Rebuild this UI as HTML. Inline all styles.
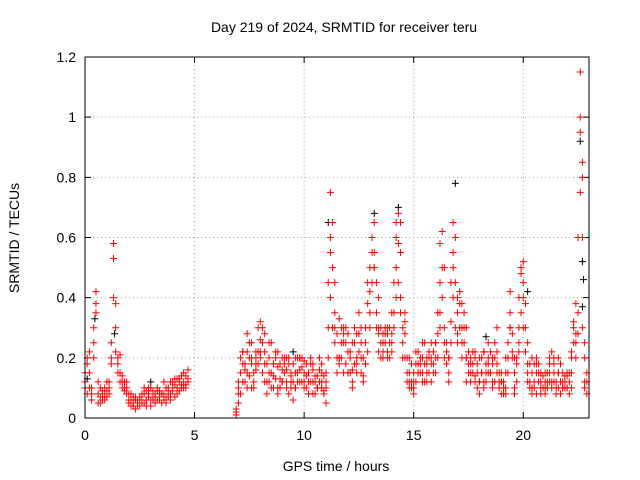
<!DOCTYPE html>
<html><head><meta charset="utf-8"><style>
body{margin:0;background:#fff}
svg{display:block;font-family:"Liberation Sans",sans-serif}
</style></head><body>
<svg id="chart" width="640" height="480">
<rect x="0" y="0" width="640" height="480" fill="#fff"/>
<text x="344" y="32" font-size="14" text-anchor="middle">Day 219 of 2024, SRMTID for receiver teru</text>
<text x="336" y="471" font-size="14" text-anchor="middle">GPS time / hours</text>
<text x="19" y="238" font-size="14" text-anchor="middle" transform="rotate(-90 19 238)">SRMTID / TECUs</text>
<g id="grid"></g>
<g id="ticks"></g>
<g id="marks"></g>
<rect x="85" y="57" width="504" height="361" fill="none" stroke="#000" stroke-width="1"/>
</svg>
<script>
const xTicks=[0,5,10,15,20];
const yTicks=[0,0.2,0.4,0.6,0.8,1,1.2];
const yTickLabels=["0","0.2","0.4","0.6","0.8","1","1.2"];
const redT1=[0,0.1,0.2,0.3,0.4,0.5,0.6,0.7,0.8,0.9,1.0,1.1,1.2,1.3,1.4,1.5,1.6,1.7,1.8,1.9,2.0,2.1,2.2,2.3,2.4,2.5,2.6,2.7,2.8,2.9,3.0,3.1,3.2,3.3,3.4,3.5,3.6,3.7,3.8,3.9,4.0,4.1,4.2,4.3,4.4,4.5,4.6,4.7];
const redA1=[.12,.18,.22,.1,.3,.38,.12,.07,.06,.1,.09,.12,.25,.53,.38,.2,.21,.14,.12,.1,.08,.06,.05,.07,.04,.06,.08,.05,.09,.07,.1,.06,.08,.09,.07,.05,.08,.1,.07,.12,.09,.11,.1,.13,.11,.12,.14,.16];
const redB1=[.15,.08,.1,.06,.2,.42,.08,.05,.09,.06,.07,.1,.18,.58,.3,.15,.12,.1,.09,.12,.06,.04,.07,.03,.06,.04,.05,.08,.06,.1,.04,.07,.05,.06,.09,.08,.06,.05,.09,.08,.12,.07,.13,.09,.14,.1,.1,.12];
const redC1=[.1,.2,.15,.08,.25,.35,.05,.1,.07,.08,.12,.08,.2,.4,.22,.18,.15,.12,.1,.08,.05,.08,.04,.06,.05,.07,.06,.1,.04,.08,.06,.09,.07,.1,.06,.08,.12,.07,.1,.06,.1,.13,.08,.12,.1,.15,.11,.13];
const redT2=[6.9,7.0,7.1,7.2,7.3,7.4,7.5,7.6,7.7,7.8,7.9,8.0,8.1,8.2,8.3,8.4,8.5,8.6,8.7,8.8,8.9,9.0,9.1,9.2,9.3,9.4,9.5,9.6,9.7,9.8,9.9,10.0,10.1,10.2,10.3,10.4,10.5,10.6,10.7,10.8,10.9,11.0,11.1,11.2,11.3,11.4,11.5,11.6,11.7,11.8,11.9,12.0,12.1,12.2,12.3,12.4,12.5,12.6,12.7,12.8,12.9,13.0,13.1,13.2,13.3,13.4,13.5,13.6,13.7,13.8,13.9,14.0,14.1,14.2,14.3,14.4,14.5,14.6,14.7,14.8,14.9,15.0,15.1,15.2,15.3,15.4,15.5,15.6,15.7,15.8,15.9,16.0,16.1,16.2,16.3,16.4,16.5,16.6,16.7,16.8,16.9,17.0,17.1,17.2,17.3,17.4,17.5,17.6,17.7,17.8,17.9,18.0,18.1,18.2,18.3,18.4,18.5,18.6,18.7,18.8,18.9,19.0,19.1,19.2,19.3,19.4,19.5,19.6,19.7,19.8,19.9,20.0,20.1,20.2,20.3,20.4,20.5,20.6,20.7,20.8,20.9,21.0,21.1,21.2,21.3,21.4,21.5,21.6,21.7,21.8,21.9,22.0,22.1,22.2,22.3,22.4,22.5,22.6,22.7,22.8,22.9];
const redA2=[.01,.05,.15,.18,.12,.28,.2,.1,.15,.22,.3,.32,.25,.18,.12,.2,.15,.1,.22,.17,.13,.2,.15,.1,.18,.12,.06,.15,.2,.12,.17,.19,.1,.15,.2,.12,.08,.14,.12,.18,.09,.05,.3,.75,.5,.3,.2,.33,.25,.15,.3,.22,.15,.1,.18,.28,.35,.2,.14,.25,.38,.5,.55,.65,.45,.3,.25,.2,.28,.22,.25,.35,.3,.6,.68,.55,.3,.2,.15,.2,.1,.12,.18,.22,.15,.2,.12,.18,.22,.2,.15,.2,.28,.45,.62,.3,.22,.15,.25,.55,.45,.35,.42,.3,.25,.2,.15,.12,.18,.14,.1,.2,.15,.12,.18,.25,.15,.1,.2,.3,.12,.08,.1,.15,.2,.35,.28,.15,.12,.25,.48,.4,.3,.18,.12,.15,.1,.15,.12,.08,.1,.12,.15,.18,.22,.15,.12,.1,.08,.12,.14,.1,.12,.2,.32,.28,.6,.95,.3,.12,.08];
const redB2=[.03,.12,.08,.22,.16,.1,.25,.18,.12,.2,.18,.26,.15,.22,.08,.15,.25,.18,.13,.1,.18,.12,.2,.16,.08,.14,.18,.1,.15,.2,.12,.15,.18,.08,.12,.16,.14,.1,.16,.1,.14,.1,.45,.6,.3,.25,.28,.18,.2,.3,.18,.28,.2,.16,.25,.2,.28,.15,.2,.18,.22,.35,.45,.55,.35,.28,.2,.25,.3,.28,.2,.28,.45,.5,.58,.35,.25,.28,.12,.15,.18,.1,.22,.15,.18,.12,.25,.2,.15,.25,.22,.15,.2,.35,.5,.25,.18,.2,.32,.4,.6,.4,.3,.25,.35,.2,.22,.18,.15,.2,.15,.12,.2,.1,.15,.18,.22,.18,.12,.18,.15,.12,.08,.2,.25,.3,.2,.1,.18,.3,.35,.45,.22,.15,.18,.1,.12,.2,.15,.1,.14,.08,.1,.15,.12,.18,.1,.15,.12,.15,.1,.14,.08,.15,.25,.2,.35,.75,.85,.25,.15];
const redC2=[.02,.08,.2,.12,.18,.22,.14,.2,.1,.16,.22,.2,.3,.12,.18,.25,.1,.14,.2,.22,.1,.16,.18,.12,.2,.1,.12,.2,.12,.16,.2,.1,.14,.12,.18,.08,.12,.1,.2,.15,.08,.12,.2,.4,.65,.35,.15,.2,.3,.25,.25,.15,.22,.12,.3,.18,.22,.25,.12,.3,.45,.42,.6,.5,.3,.22,.3,.22,.25,.2,.3,.22,.35,.65,.45,.4,.2,.32,.2,.1,.12,.15,.12,.18,.2,.15,.18,.12,.2,.18,.18,.25,.35,.58,.4,.2,.25,.12,.45,.5,.3,.28,.38,.2,.3,.12,.18,.15,.22,.12,.18,.08,.15,.22,.12,.2,.15,.12,.25,.22,.1,.15,.12,.1,.15,.42,.22,.08,.2,.22,.5,.3,.38,.12,.1,.2,.18,.08,.18,.12,.1,.15,.12,.2,.1,.12,.08,.2,.18,.1,.12,.1,.15,.22,.3,.25,.28,1.0,.6,.1,.12];
const redT3=[7.0,7.2,7.4,7.6,7.8,8.0,8.2,8.4,8.6,8.8,9.0,9.2,9.4,9.6,9.8,10.0,10.2,10.4,10.6,10.8,11.0,11.2,11.4,11.6,11.8,12.0,12.2,12.4,12.6,12.8,13.0,13.2,13.4,13.6,13.8,14.0,14.2,14.4,14.6,14.8,15.0,15.2,15.4,15.6,15.8,16.0,16.2,16.4,16.6,16.8,17.0,17.2,17.4,17.6,17.8,18.0,18.2,18.4,18.6,18.8,19.0,19.2,19.4,19.6,19.8,20.0,20.2,20.4,20.6,20.8,21.0,21.2,21.4,21.6,21.8,22.0,22.2,22.4,22.6,22.7,22.8];
const redA3=[.1,.22,.15,.25,.18,.22,.28,.12,.18,.08,.12,.2,.15,.1,.2,.12,.08,.18,.1,.12,.15,.55,.45,.2,.28,.15,.25,.15,.3,.18,.3,.5,.4,.28,.3,.25,.4,.65,.35,.12,.08,.15,.25,.15,.12,.25,.3,.5,.2,.65,.25,.38,.3,.2,.22,.12,.22,.15,.2,.15,.12,.08,.3,.2,.4,.52,.25,.08,.18,.15,.1,.12,.2,.15,.1,.15,.1,.38,1.15,.8,.2];
const blackT=[0.1,0.45,1.35,11.1,13.2,14.3,16.9,22.6,22.7,22.75,22.7,18.3,20.2,3.0,9.5];
const blackV=[.13,.33,.28,.65,.68,.7,.78,.92,.52,.46,.37,.27,.42,.12,.22];

const X0=85,X1=589,Y0=418,Y1=57,XMAX=23,YMAX=1.2;
const xs=t=>X0+t*(X1-X0)/XMAX;
const ys=v=>Y0-v*(Y0-Y1)/YMAX;
const NS="http://www.w3.org/2000/svg";
const grid=document.getElementById('grid'),ticks=document.getElementById('ticks'),marks=document.getElementById('marks');
function mk(tag,attrs,parent){const e=document.createElementNS(NS,tag);for(const k in attrs)e.setAttribute(k,attrs[k]);parent.appendChild(e);return e;}
xTicks.forEach(t=>{
  const x=xs(t);
  if(t>0){const g=mk('line',{x1:x,x2:x,y1:Y0,y2:Y1,stroke:'#a0a0a0','stroke-dasharray':'1,3'},grid);
  
  }
  const tk=mk('path',{d:`M${x},${Y0}v-6M${x},${Y1}v6`,stroke:'#000'},ticks);
  
  
  const l=mk('text',{x:x,y:Y0+22,'font-size':14,'text-anchor':'middle'},ticks);l.textContent=t;
  
  
});
yTicks.forEach((v,i)=>{
  const y=ys(v);
  if(v>0&&v<YMAX){const g=mk('line',{x1:X0,x2:X1,y1:y,y2:y,stroke:'#a0a0a0','stroke-dasharray':'1,3'},grid);
  
  }
  const tk=mk('path',{d:`M${X0},${y}h6M${X1},${y}h-6`,stroke:'#000'},ticks);
  
  
  const l=mk('text',{x:X0-9,y:y+5,'font-size':14,'text-anchor':'end'},ticks);l.textContent=yTickLabels[i];
  
  
});
function plus(T,V,color,name){
  let d='';
  for(let i=0;i<T.length;i++){const x=xs(T[i]),y=ys(V[i]);d+=`M${x-3.5},${y}h7M${x},${y-3.5}v7`;}
  const p=mk('path',{d:d,stroke:color,'stroke-width':1,fill:'none'},marks);
  
  
}
plus(blackT,blackV,'#000','black-series-points');
plus(redT1,redA1,'#ff0000','red-points-a1');
plus(redT1,redB1,'#ff0000','red-points-b1');
plus(redT1,redC1,'#ff0000','red-points-c1');
plus(redT2,redA2,'#ff0000','red-points-a2');
plus(redT2,redB2,'#ff0000','red-points-b2');
plus(redT2,redC2,'#ff0000','red-points-c2');
plus(redT3,redA3,'#ff0000','red-points-a3');
</script>
</body></html>
